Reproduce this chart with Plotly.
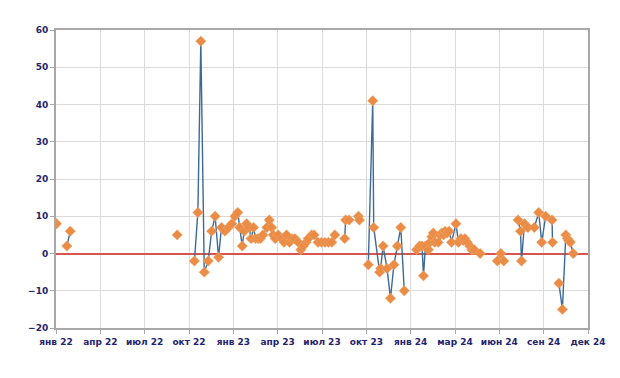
import plotly.graph_objects as go
import pandas as pd

# Dates of observations (None = break in the line)
dates = [
    "2022-01-12", None,
    "2022-02-02", "2022-02-09", None,
    "2022-09-14", None,
    "2022-10-19", "2022-10-26", "2022-11-01", "2022-11-08", "2022-11-16", "2022-11-23",
    "2022-11-30", "2022-12-07", "2022-12-13", "2022-12-20", "2022-12-27", "2023-01-03",
    "2023-01-09", "2023-01-15", "2023-01-19", "2023-01-24", "2023-01-28", "2023-02-02",
    "2023-02-07", "2023-02-11", "2023-02-16", "2023-02-20", "2023-02-25", "2023-03-02",
    "2023-03-07", "2023-03-15", "2023-03-20", "2023-03-25", "2023-03-28", "2023-04-01",
    "2023-04-07", "2023-04-14", "2023-04-19", "2023-04-24", "2023-04-30", "2023-05-05",
    "2023-05-11", "2023-05-18", "2023-05-23", "2023-05-28", "2023-06-03", "2023-06-07",
    "2023-06-14", "2023-06-19", "2023-06-27", "2023-07-04", "2023-07-11", "2023-07-18",
    "2023-07-25", "2023-07-31", None,
    "2023-08-20", "2023-08-22", "2023-08-29", None,
    "2023-09-17", "2023-09-19", None,
    "2023-10-07", "2023-10-16", "2023-10-18", "2023-10-30", "2023-11-01", "2023-11-06",
    "2023-11-14", "2023-11-21", "2023-11-28", "2023-12-05", "2023-12-12", "2023-12-19", None,
    "2024-01-13", "2024-01-19", "2024-01-24", "2024-01-27", "2024-01-31", "2024-02-06",
    "2024-02-09", "2024-02-13", "2024-02-16", "2024-02-19", "2024-02-26", "2024-03-01",
    "2024-03-04", "2024-03-08", "2024-03-11", "2024-03-15", "2024-03-19", "2024-03-24",
    "2024-04-02", "2024-04-07", "2024-04-12", "2024-04-17", "2024-04-20", "2024-04-25",
    "2024-04-30", "2024-05-04", "2024-05-09", "2024-05-21", None,
    "2024-06-25", "2024-07-02", "2024-07-08", None,
    "2024-08-06", "2024-08-11", "2024-08-13", "2024-08-19", "2024-08-26", "2024-09-08",
    "2024-09-17", "2024-09-23", "2024-10-01", None,
    "2024-10-14", "2024-10-15", None,
    "2024-10-28", "2024-11-04", "2024-11-11", "2024-11-14", "2024-11-17", "2024-11-20",
    "2024-11-26",
]

values = [
    8, None,
    2, 6, None,
    5, None,
    -2, 11, 57, -5, -2, 6,
    10, -1, 7, 6, 7, 8,
    10, 11, 7, 2, 6, 8,
    7, 4, 7, 4, 4, 4,
    5, 7, 9, 7, 5, 4,
    5, 4, 3, 5, 3, 4,
    4, 3, 1, 2, 3, 4,
    5, 5, 3, 3, 3, 3,
    3, 5, None,
    4, 9, 9, None,
    10, 9, None,
    -3, 41, 7, -5, -4, 2,
    -4, -12, -3, 2, 7, -10, None,
    1, 2, 2, -6, 2, 1,
    3, 4.5, 5.5, 3, 3, 5,
    5.5, 5, 6, 5.5, 6, 3,
    8, 3, 4, 3.5, 4, 3,
    2, 1, 1, 0, None,
    -2, 0, -2, None,
    9, 6, -2, 8, 7, 7,
    11, 3, 10, None,
    9, 3, None,
    -8, -15, 5, 4, 3.5, 3,
    0,
]

tick_labels = ["янв 22", "апр 22", "июл 22", "окт 22", "янв 23", "апр 23", "июл 23",
               "окт 23", "янв 24", "мар 24", "июн 24", "сен 24", "дек 24"]

axis_start = pd.Timestamp("2022-01-11")
tick_vals = pd.date_range(axis_start, periods=len(tick_labels), freq="90D")
axis_end = tick_vals[-1]

navy = "#1F2470"
fig = go.Figure()
fig.add_trace(go.Scatter(
    x=dates, y=values, mode="lines+markers",
    line=dict(color="#3D6A98", width=1.4),
    marker=dict(symbol="diamond", size=8, color="#EA8C46",
                line=dict(color="#F2A66C", width=0.5)),
    connectgaps=False, showlegend=False, hoverinfo="x+y",
))

fig.update_layout(
    width=620, height=378,
    margin=dict(l=56, r=32, t=30, b=50),
    paper_bgcolor="white", plot_bgcolor="white",
    font=dict(family="DejaVu Sans", color=navy),
)
fig.update_xaxes(
    type="date", range=[axis_start, axis_end],
    tickmode="array", tickvals=tick_vals, ticktext=tick_labels,
    showgrid=True, gridcolor="#DADADA", gridwidth=1.2,
    showline=True, linecolor="#A8A8A8", linewidth=2, mirror=True,
    ticks="outside", ticklen=4, tickcolor="#A8A8A8",
    tickfont=dict(family="DejaVu Sans", size=9, color=navy, weight="bold"),
    zeroline=False,
)
fig.update_yaxes(
    range=[-20, 60], dtick=10, tick0=0,
    showgrid=True, gridcolor="#DADADA", gridwidth=1.2,
    showline=True, linecolor="#A8A8A8", linewidth=2, mirror=True,
    ticks="outside", ticklen=4, tickcolor="#A8A8A8",
    tickfont=dict(family="DejaVu Sans", size=9, color=navy, weight="bold"),
    zeroline=True, zerolinecolor="#D9534F", zerolinewidth=1.6,
)

fig.write_html("out.html")
